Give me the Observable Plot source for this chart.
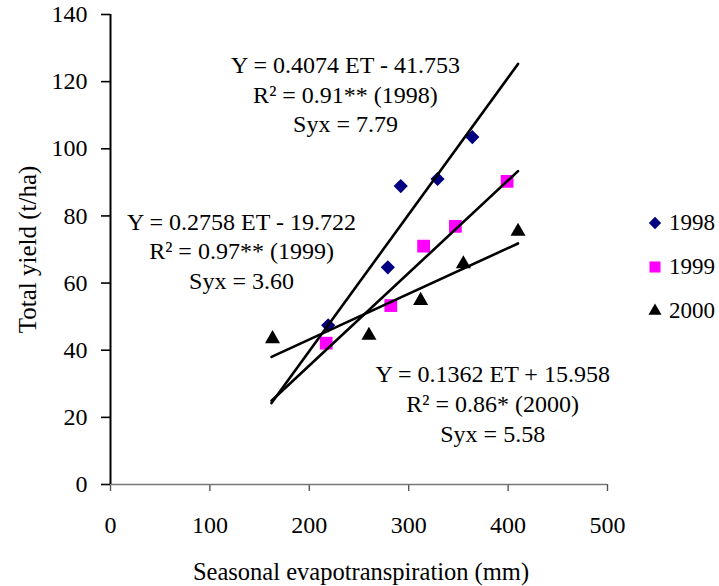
<!DOCTYPE html>
<html>
<head>
<meta charset="utf-8">
<script src="https://cdn.jsdelivr.net/npm/d3@7"></script>
<script src="https://cdn.jsdelivr.net/npm/@observablehq/plot@0.6"></script>
<style>
  html, body { margin: 0; padding: 0; background: #fff; }
  #wrap { position: relative; width: 719px; height: 586px; font-family: "Liberation Serif", "Times New Roman", serif; }
  #legend { position: absolute; left: 645px; top: 201px; font-size: 23px; color: #000; }
  .item { display: flex; align-items: center; height: 44px; }
  .item svg { margin-right: 4px; }
</style>
</head>
<body>
<div id="wrap"><div id="legend"></div></div>
<script>
// ---- data ----
const years = ["1998", "1999", "2000"];
const et1998 = [219, 279, 292, 329, 364];
const yield1998 = [47.4, 64.7, 88.9, 91.0, 103.5];
const et1999 = [217, 282, 315, 347, 399];
const yield1999 = [42.1, 53.3, 71.0, 76.9, 90.3];
const et2000 = [163, 260, 312, 355, 410];
const yield2000 = [43.4, 44.4, 54.8, 65.7, 75.4];
const slopes = [0.4074, 0.2758, 0.1362];
const intercepts = [-41.753, -19.722, 15.958];
const fitRange = [162, 410];
const equations = [
  "Y = 0.4074 ET - 41.753\nR\u00B2 = 0.91** (1998)\nSyx = 7.79",
  "Y = 0.2758 ET - 19.722\nR\u00B2 = 0.97** (1999)\nSyx = 3.60",
  "Y = 0.1362 ET + 15.958\nR\u00B2 = 0.86* (2000)\nSyx = 5.58"
];
const xTicks = [0, 100, 200, 300, 400, 500];
const yTicks = [0, 20, 40, 60, 80, 100, 120, 140];
const xTitle = "Seasonal evapotranspiration (mm)";
const yTitle = "Total yield (t/ha)";

// ---- styles ----
const colors = ["#000080", "#FF00FF", "#000000"];
const symbols = [d3.symbolDiamond2, d3.symbolSquare, d3.symbolTriangle];
const radii = [6.4, 7.2, 5.6];

const pts = [
  et1998.map((x, i) => ({x, y: yield1998[i]})),
  et1999.map((x, i) => ({x, y: yield1999[i]})),
  et2000.map((x, i) => ({x, y: yield2000[i]}))
];
const fits = slopes.map((m, i) => fitRange.map(x => ({x, y: m * x + intercepts[i]})));

const annoPos = [
  {x: 236.4, y: 116.6},
  {x: 131.8, y: 69.9},
  {x: 384.5, y: 24.4}
];

const plot = Plot.plot({
  width: 719,
  height: 586,
  marginLeft: 110,
  marginRight: 112,
  marginTop: 14,
  marginBottom: 102,
  style: {fontFamily: "'Liberation Serif', 'Times New Roman', serif", fontSize: "24px", background: "#fff", color: "#000"},
  x: {domain: [0, 500]},
  y: {domain: [0, 140]},
  marks: [
    Plot.axisY({ticks: yTicks, tickSize: 9, tickPadding: 14, label: null, strokeWidth: 1.6, fontSize: 24}),
    Plot.axisX({ticks: xTicks, tickSize: 7, tickPadding: 24, label: null, stroke: "#555", strokeWidth: 1.4, fontSize: 24}),
    Plot.ruleY([0], {stroke: "#777", strokeWidth: 1.6}),
    Plot.ruleX([0], {stroke: "#000", strokeWidth: 2}),
    ...pts.map((d, i) => Plot.dot(d, {x: "x", y: "y", symbol: () => symbols[i], fill: colors[i], stroke: "none", r: radii[i]})),
    ...fits.map(d => Plot.line(d, {x: "x", y: "y", stroke: "#000", strokeWidth: 2.6})),
    Plot.text(equations, {x: (d, i) => annoPos[i].x, y: (d, i) => annoPos[i].y, text: d => d, textAnchor: "middle", lineHeight: 1.24, fontSize: 24, fill: "#000"}),
    Plot.text([yTitle], {frameAnchor: "left", textAnchor: "middle", lineAnchor: "middle", rotate: -90, dx: -83, fontSize: 25, fill: "#000"}),
    Plot.text([xTitle], {frameAnchor: "bottom", textAnchor: "middle", lineAnchor: "middle", dy: 88, dx: 2, fontSize: 24.5, fill: "#000"})
  ]
});
document.getElementById("wrap").prepend(plot);

// ---- legend ----
const legend = d3.select("#legend");
years.forEach((yr, i) => {
  const item = legend.append("div").attr("class", "item");
  const s = item.append("svg").attr("width", 20).attr("height", 20);
  s.append("path")
    .attr("transform", "translate(10,10)")
    .attr("d", d3.symbol(symbols[i], Math.PI * radii[i] * radii[i] * 0.75)())
    .attr("fill", colors[i]);
  item.append("span").text(yr);
});
</script>
</body>
</html>
